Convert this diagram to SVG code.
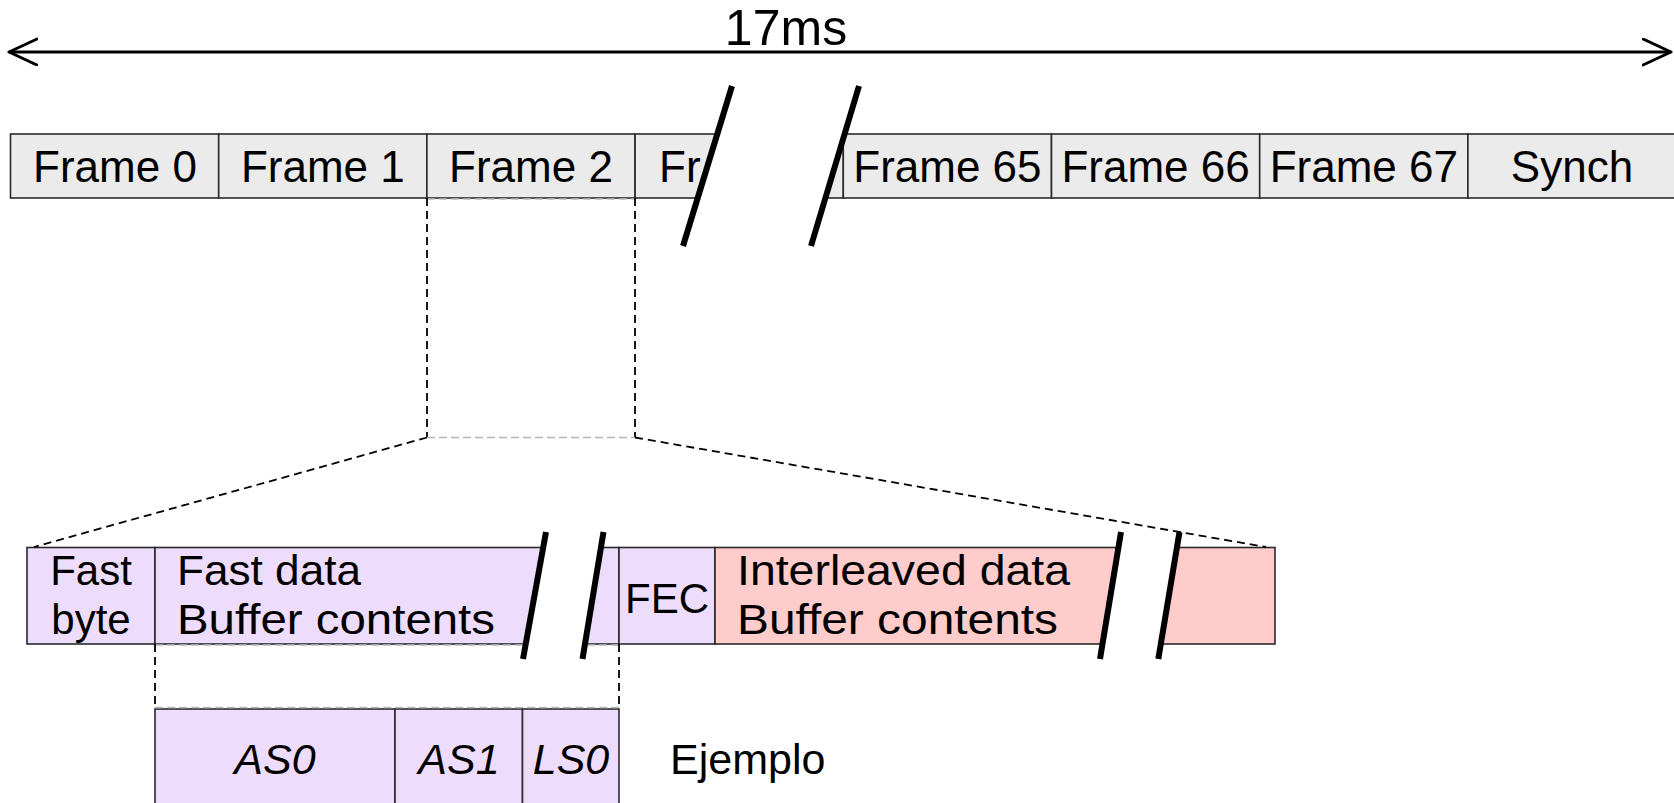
<svg xmlns="http://www.w3.org/2000/svg" width="1674" height="803" viewBox="0 0 1674 803">
<style>
  text { font-family: "Liberation Sans", Arial, sans-serif; fill: #000; }
  .t44 { font-size: 44px; text-anchor: middle; }
  .t42 { font-size: 42px; }
  .mid { text-anchor: middle; }
  .grey { fill: #ebebeb; stroke: #2a2a2a; stroke-width: 1.6; }
  .lav { fill: #eddcfc; stroke: #2a2a2a; stroke-width: 1.6; }
  .pink { fill: #ffcccc; stroke: #2a2a2a; stroke-width: 1.6; }
  .dash { fill: none; stroke: #000; stroke-width: 1.8; stroke-dasharray: 8 5; }
  .gdash { fill: none; stroke: #b8b8b8; stroke-width: 1.5; stroke-dasharray: 8 4; }
  .slash { stroke: #000; stroke-width: 6; fill: none; }
  .gap { fill: #fff; stroke: none; }
</style>
<defs>
  <marker id="open" markerUnits="userSpaceOnUse" markerWidth="32" markerHeight="30" refX="29" refY="14" orient="auto-start-reverse">
    <path d="M1,1 L29,14 L1,27" fill="none" stroke="#000" stroke-width="3" stroke-linecap="round" stroke-linejoin="round"/>
  </marker>
</defs>
<rect width="1674" height="803" fill="#fff"/>

<!-- top frame bar -->
<g id="frame0"><rect class="grey" x="10.5" y="134" width="208.2" height="64"/><text class="t44" x="115" y="182">Frame 0</text></g>
<g id="frame1"><rect class="grey" x="218.7" y="134" width="208.2" height="64"/><text class="t44" x="322.8" y="182">Frame 1</text></g>
<g id="frame2"><rect class="grey" x="426.9" y="134" width="208.2" height="64"/><text class="t44" x="531" y="182">Frame 2</text></g>
<g id="frame3"><rect class="grey" x="635.1" y="134" width="208.2" height="64"/><text style="font-size:44px" x="659" y="182">Fr</text></g>
<g id="frame65"><rect class="grey" x="843.3" y="134" width="208.2" height="64"/><text class="t44" x="947.4" y="182">Frame 65</text></g>
<g id="frame66"><rect class="grey" x="1051.5" y="134" width="208.2" height="64"/><text class="t44" x="1155.6" y="182">Frame 66</text></g>
<g id="frame67"><rect class="grey" x="1259.7" y="134" width="208.2" height="64"/><text class="t44" x="1363.8" y="182">Frame 67</text></g>
<g id="synch"><rect class="grey" x="1467.9" y="134" width="220" height="64"/><text class="t44" x="1572" y="182">Synch</text></g>

<!-- lower bar -->
<g id="fastbyte"><rect class="lav" x="27" y="547.5" width="128" height="96.5"/>
  <text class="t42 mid" x="91" y="585">Fast</text><text class="t42 mid" x="91" y="634">byte</text></g>
<g id="fastdata"><rect class="lav" x="155" y="547.5" width="464" height="96.5"/>
  <text class="t42" x="177" y="585" textLength="184" lengthAdjust="spacingAndGlyphs">Fast data</text>
  <text class="t42" x="177" y="634" textLength="318" lengthAdjust="spacingAndGlyphs">Buffer contents</text></g>
<g id="fec"><rect class="lav" x="619" y="547.5" width="96" height="96.5"/>
  <text class="t42 mid" x="667" y="613">FEC</text></g>
<g id="interleaved"><rect class="pink" x="715" y="547.5" width="560" height="96.5"/>
  <text class="t42" x="737" y="585" textLength="333" lengthAdjust="spacingAndGlyphs">Interleaved data</text>
  <text class="t42" x="737" y="634" textLength="321" lengthAdjust="spacingAndGlyphs">Buffer contents</text></g>

<!-- bottom example -->
<g id="as0"><rect class="lav" x="155" y="709" width="240" height="110"/><text class="mid" style="font-size:43px;font-style:italic" x="275" y="774">AS0</text></g>
<g id="as1"><rect class="lav" x="395" y="709" width="127.5" height="110"/><text class="mid" style="font-size:43px;font-style:italic" x="459" y="774">AS1</text></g>
<g id="ls0"><rect class="lav" x="522.5" y="709" width="96.5" height="110"/><text class="mid" style="font-size:43px;font-style:italic" x="571" y="774">LS0</text></g>
<g id="ejemplo"><text style="font-size:43px" x="670" y="774">Ejemplo</text></g>

<!-- connectors -->
<g id="connectors">
  <line x1="9" y1="52" x2="1671" y2="52" stroke="#000" stroke-width="3" marker-start="url(#open)" marker-end="url(#open)"/>
  <line class="gdash" x1="427" y1="199" x2="635" y2="199"/>
  <line class="dash" x1="427" y1="198" x2="427" y2="437.5"/>
  <line class="dash" x1="635" y1="198" x2="635" y2="437.5"/>
  <line class="gdash" x1="427" y1="437.5" x2="635" y2="437.5"/>
  <line class="dash" x1="427" y1="437.5" x2="34" y2="547"/>
  <line class="dash" x1="635" y1="437.5" x2="1266" y2="547"/>
  <line class="gdash" x1="155" y1="645" x2="619" y2="645"/>
  <line class="dash" x1="155" y1="644" x2="155" y2="709"/>
  <line class="dash" x1="619" y1="644" x2="619" y2="709"/>
  <line class="gdash" x1="155" y1="707.5" x2="619" y2="707.5"/>
</g>

<!-- breaks -->
<g id="breaks">
  <polygon class="gap" points="717.9,132 845.2,132 824.8,200 697.1,200"/>
  <line class="slash" x1="732" y1="86" x2="683" y2="246"/>
  <line class="slash" x1="859" y1="86" x2="811" y2="246"/>
  <polygon class="gap" points="543.5,546 601.2,546 584.6,646 525.4,646"/>
  <line class="slash" x1="546" y1="532" x2="523" y2="659"/>
  <line class="slash" x1="603.5" y1="532" x2="582.5" y2="659"/>
  <polygon class="gap" points="1118.7,546 1177.2,546 1160.5,646 1102.1,646"/>
  <line class="slash" x1="1121" y1="532" x2="1100" y2="659"/>
  <line class="slash" x1="1179.5" y1="532" x2="1158.3" y2="659"/>
</g>

<g id="title"><text class="mid" style="font-size:50px" x="786" y="45">17ms</text></g>
</svg>
